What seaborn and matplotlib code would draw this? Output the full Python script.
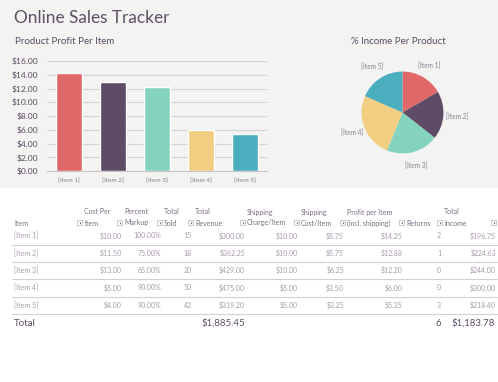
import matplotlib
matplotlib.use("Agg")
import matplotlib.pyplot as plt
from matplotlib.patches import Rectangle
from matplotlib.ticker import FuncFormatter, FixedLocator
import seaborn as sns

# Data read from the tracker sheet
items = ["[Item 1]", "[Item 2]", "[Item 3]", "[Item 4]", "[Item 5]"]
cost_per_item = [10.00, 11.50, 13.00, 5.00, 4.00]
markup_pct = [100.0, 75.0, 65.0, 90.0, 90.0]
total_sold = [15, 18, 20, 50, 42]
revenue = [300.00, 362.25, 429.00, 475.00, 319.20]
ship_charge = [10.00, 10.00, 10.00, 5.00, 5.00]
ship_cost = [5.75, 5.75, 6.25, 3.50, 3.25]
profit_per_item = [14.25, 12.88, 12.20, 6.00, 5.35]
returns = [2, 1, 0, 0, 3]
income = [196.75, 224.63, 244.00, 300.00, 218.40]

colors = ["#e06868", "#604b66", "#84d3bf", "#f2ce82", "#4aaebf"]
yticks = [0, 2, 4, 6, 8, 10, 12, 14, 16]

W, H = 498, 382
TITLE_C = "#5c4a63"
HEAD_C = "#7d6c82"
VAL_C = "#a999ac"

sns.set_theme(style="white")
plt.rcParams['font.family'] = ['Lato', 'DejaVu Sans']

fig = plt.figure(figsize=(W / 100, H / 100), dpi=100)
fig.patch.set_facecolor("white")


def px_axes(x0, y0, w, h, **kw):
    # axes placed in pixel units, y measured from the top
    return fig.add_axes([x0 / W, 1 - (y0 + h) / H, w / W, h / H], **kw)


# background / text layer
bg = px_axes(0, 0, W, H, zorder=0)
bg.set_xlim(0, W)
bg.set_ylim(H, 0)
bg.axis("off")
bg.add_patch(Rectangle((0, 0), W, 188, color="#f3f3f2", lw=0))
bg.text(14, 18, "Online Sales Tracker", fontsize=12.4, color="#5e4f66", va="center")
bg.text(15, 42, "Product Profit Per Item", fontsize=7, color=TITLE_C, va="center")
bg.text(398, 42, "% Income Per Product", fontsize=7, color=TITLE_C, va="center", ha="center")

# bar chart
ax = px_axes(47, 61, 220, 110, zorder=2)
ax.set_facecolor("none")
sns.barplot(x=items, y=profit_per_item, hue=items, palette=colors, width=0.61,
            saturation=1, legend=False, ax=ax)
ax.set_ylim(0, 16)
ax.set_yticks(yticks)
ax.yaxis.set_major_formatter(FuncFormatter(lambda v, p: f"${v:.2f}"))
ax.yaxis.grid(True, color="#d5d2d4", lw=0.8)
ax.set_axisbelow(True)
for s in ["left", "top", "right"]:
    ax.spines[s].set_visible(False)
ax.spines["bottom"].set_color("#c9c2c9")
ax.spines["bottom"].set_linewidth(0.8)
ax.tick_params(axis="y", labelsize=6.1, labelcolor=TITLE_C, length=0, pad=6.5)
ax.tick_params(axis="x", which="major", labelsize=4.6, labelcolor="#8a7c8e", length=0, pad=5)
ax.xaxis.set_minor_locator(FixedLocator([i - 0.5 for i in range(len(items) + 1)]))
ax.tick_params(axis="x", which="minor", length=3, color="#c9c2c9", width=0.8, direction="out")
ax.set_xlabel("")
ax.set_ylabel("")

# pie chart
pax = px_axes(337, 47, 131, 131, zorder=2)
wedges, labels = pax.pie(income, labels=items, colors=colors, startangle=90,
                         counterclock=False, labeldistance=1.33,
                         wedgeprops=dict(linewidth=0),
                         textprops=dict(fontsize=4.7, color="#8a7c8e"))
for t in labels:
    t.set_ha("center")
    t.set_va("center")
pax.set_xlim(-1.6, 1.6)
pax.set_ylim(-1.6, 1.6)
pax.axis("off")

# table
columns = [
    ("Cost Per", "Item", 84, 122, [f"${v:.2f}" for v in cost_per_item]),
    ("Percent", "Markup", 124, 161, [f"{v:.2f}%" for v in markup_pct]),
    ("Total", "Sold", 164, 192, [str(v) for v in total_sold]),
    ("Total", "Revenue", 195, 245, [f"${v:,.2f}" for v in revenue]),
    ("Shipping", "Charge/Item", 247, 298, [f"${v:.2f}" for v in ship_charge]),
    ("Shipping", "Cost/Item", 301, 344, [f"${v:.2f}" for v in ship_cost]),
    ("Profit per Item", "(incl. shipping)", 347, 403, [f"${v:.2f}" for v in profit_per_item]),
    ("", "Returns", 406, 441, [str(v) for v in returns]),
    ("Total", "Income", 444, 496, [f"${v:,.2f}" for v in income]),
]

h1, h2 = 212, 223
row0, row_step = 236, 17.3


def dropdown(x, y):
    bg.add_patch(Rectangle((x, y - 2.6), 5, 5, facecolor="white", edgecolor="#b3b3b3", lw=0.5))
    bg.plot([x + 2.5], [y - 0.3], marker="v", ms=1.4, color="#555555", mew=0)


bg.text(14, h2, "Item", fontsize=5, color=HEAD_C, va="center")
for top, bottom, hx, rx, vals in columns:
    bg.text(hx, h1, top, fontsize=5, color=HEAD_C, va="center")
    bg.text(hx, h2, bottom, fontsize=5, color=HEAD_C, va="center")
    dropdown(hx - 7, h2)
    for i, v in enumerate(vals):
        bg.text(rx, row0 + i * row_step, v, fontsize=5, color=VAL_C, va="center", ha="right")
dropdown(491, h2)

for i, name in enumerate(items):
    y = row0 + i * row_step
    bg.text(14, y, name, fontsize=5, color=VAL_C, va="center")
    bg.plot([12, 497], [y + 8.6, y + 8.6], color="#d3d0d3", lw=0.8)

ytot = 323
bg.text(14, ytot, "Total", fontsize=7, color=TITLE_C, va="center")
bg.text(245, ytot, f"${sum(revenue):,.2f}", fontsize=6.9, color=TITLE_C, va="center", ha="right")
bg.text(441, ytot, str(sum(returns)), fontsize=6.9, color=TITLE_C, va="center", ha="right")
bg.text(495, ytot, f"${sum(income):,.2f}", fontsize=6.9, color=TITLE_C, va="center", ha="right")

fig.savefig("out.png", dpi=100)
